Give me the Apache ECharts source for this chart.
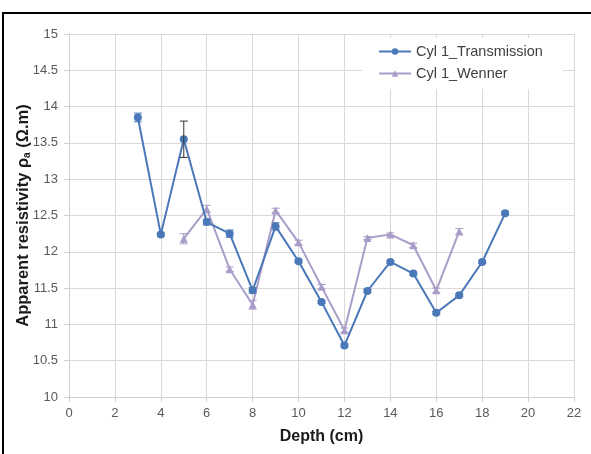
<!DOCTYPE html>
<html>
<head>
<meta charset="utf-8">
<script src="https://cdn.jsdelivr.net/npm/echarts@6/dist/echarts.min.js"></script>
<style>
  html, body { margin: 0; padding: 0; background: #fff; }
  #chart { width: 591px; height: 454px; }
</style>
</head>
<body>
<div id="chart"></div>
<script>
// Apparent resistivity profiles for cylinder 1 (transmission vs. Wenner array)
const transDepth = [3, 4, 5, 6, 7, 8, 9, 10, 11, 12, 13, 14, 15, 16, 17, 18, 19];
const transValues = [13.85, 12.24, 13.55, 12.41, 12.25, 11.47, 12.35, 11.87, 11.31, 10.71, 11.46, 11.86, 11.70, 11.16, 11.40, 11.86, 12.53];
const transErr = [0.06, 0.02, 0.25, 0.04, 0.05, 0.04, 0.05, 0.02, 0.02, 0.02, 0.02, 0.02, 0.02, 0.02, 0.02, 0.02, 0.02];

const wenDepth = [5, 6, 7, 8, 9, 10, 11, 12, 13, 14, 15, 16, 17];
const wenValues = [12.18, 12.59, 11.76, 11.27, 12.57, 12.13, 11.52, 10.92, 12.19, 12.24, 12.09, 11.47, 12.28];
const wenErr = [0.07, 0.05, 0.03, 0.06, 0.03, 0.03, 0.03, 0.03, 0.02, 0.02, 0.03, 0.03, 0.04];

const xTicks = [0, 2, 4, 6, 8, 10, 12, 14, 16, 18, 20, 22];
const yTicks = [10, 10.5, 11, 11.5, 12, 12.5, 13, 13.5, 14, 14.5, 15];

const seriesNames = ['Cyl 1_Transmission', 'Cyl 1_Wenner'];

const BLUE = '#4a78b8';
const LAVENDER = '#aa9dc9';
const FONT = 'Liberation Sans, Arial, sans-serif';

const pairs = (xs, ys) => xs.map((x, i) => [x, ys[i]]);
const errRows = (xs, ys, es) => xs.map((x, i) => [x, ys[i] - es[i], ys[i] + es[i]]);

// vertical error bar with caps, placed through the axis scales
function errorBar(color, darkAt) {
  return function (params, api) {
    const x = api.value(0);
    const lo = api.coord([x, api.value(1)]);
    const hi = api.coord([x, api.value(2)]);
    const half = 4;
    const stroke = (darkAt !== undefined && x === darkAt) ? '#333333' : color;
    const style = { stroke: stroke, lineWidth: 1 };
    return {
      type: 'group',
      children: [
        { type: 'line', shape: { x1: lo[0], y1: lo[1], x2: hi[0], y2: hi[1] }, style: style },
        { type: 'line', shape: { x1: lo[0] - half, y1: lo[1], x2: lo[0] + half, y2: lo[1] }, style: style },
        { type: 'line', shape: { x1: hi[0] - half, y1: hi[1], x2: hi[0] + half, y2: hi[1] }, style: style }
      ]
    };
  };
}

const chart = echarts.init(document.getElementById('chart'), null, { renderer: 'canvas' });

chart.setOption({
  backgroundColor: '#ffffff',
  animation: false,
  textStyle: { fontFamily: FONT },
  grid: { left: 69, right: 17, top: 34, bottom: 57 },
  graphic: [
    { type: 'rect', shape: { x: 2, y: 12, width: 600, height: 2 }, style: { fill: '#000' }, z: 100 },
    { type: 'rect', shape: { x: 2, y: 12, width: 2, height: 460 }, style: { fill: '#000' }, z: 100 }
  ],
  legend: {
    orient: 'vertical',
    left: 362,
    top: 38,
    padding: [6, 20, 8, 16],
    itemGap: 7,
    itemWidth: 32,
    itemHeight: 8,
    backgroundColor: '#ffffff',
    data: seriesNames,
    textStyle: { fontFamily: FONT, fontSize: 14.5, color: '#404040' },
    z: 10
  },
  xAxis: {
    type: 'value',
    min: xTicks[0],
    max: xTicks[xTicks.length - 1],
    interval: 2,
    name: 'Depth (cm)',
    nameLocation: 'middle',
    nameGap: 32,
    nameMoveOverlap: false,
    nameTextStyle: { fontFamily: FONT, fontSize: 16, fontWeight: 'bold', color: '#1a1a1a', verticalAlign: 'top' },
    axisLine: { show: true, lineStyle: { color: '#d0d0d0', width: 1 } },
    axisTick: { show: true, length: 5, lineStyle: { color: '#d0d0d0' } },
    axisLabel: { fontFamily: FONT, fontSize: 13, color: '#595959', margin: 10 },
    splitLine: { show: true, lineStyle: { color: '#d9d9d9', width: 1 } }
  },
  yAxis: {
    type: 'value',
    min: yTicks[0],
    max: yTicks[yTicks.length - 1],
    interval: 0.5,
    name: '{t|Apparent resistivity ρ}{s|a}{t| (Ω.m)}',
    nameLocation: 'middle',
    nameRotate: 90,
    nameGap: 37,
    nameMoveOverlap: false,
    nameTextStyle: {
      verticalAlign: 'bottom',
      rich: {
        t: { fontFamily: FONT, fontSize: 16.5, fontWeight: 'bold', color: '#1a1a1a' },
        s: { fontFamily: FONT, fontSize: 10, fontWeight: 'bold', color: '#1a1a1a', verticalAlign: 'bottom', padding: [7, 0, 0, 0] }
      }
    },
    axisLine: { show: true, lineStyle: { color: '#d0d0d0', width: 1 } },
    axisTick: { show: true, length: 5, lineStyle: { color: '#d0d0d0' } },
    axisLabel: { fontFamily: FONT, fontSize: 13, color: '#595959', margin: 11 },
    splitLine: { show: true, lineStyle: { color: '#d9d9d9', width: 1 } }
  },
  series: [
    {
      name: seriesNames[1],
      type: 'line',
      data: pairs(wenDepth, wenValues),
      symbol: 'triangle',
      symbolSize: 8,
      lineStyle: { color: LAVENDER, width: 2 },
      itemStyle: { color: LAVENDER },
      z: 2
    },
    {
      name: 'wenErr',
      type: 'custom',
      data: errRows(wenDepth, wenValues, wenErr),
      renderItem: errorBar(LAVENDER),
      encode: { x: 0, y: [1, 2] },
      z: 3,
      silent: true
    },
    {
      name: seriesNames[0],
      type: 'line',
      data: pairs(transDepth, transValues),
      symbol: 'circle',
      symbolSize: 8,
      lineStyle: { color: BLUE, width: 2 },
      itemStyle: { color: BLUE },
      z: 4
    },
    {
      name: 'transErr',
      type: 'custom',
      data: errRows(transDepth, transValues, transErr),
      renderItem: errorBar(BLUE, 5),
      encode: { x: 0, y: [1, 2] },
      z: 5,
      silent: true
    }
  ]
});
</script>
</body>
</html>
